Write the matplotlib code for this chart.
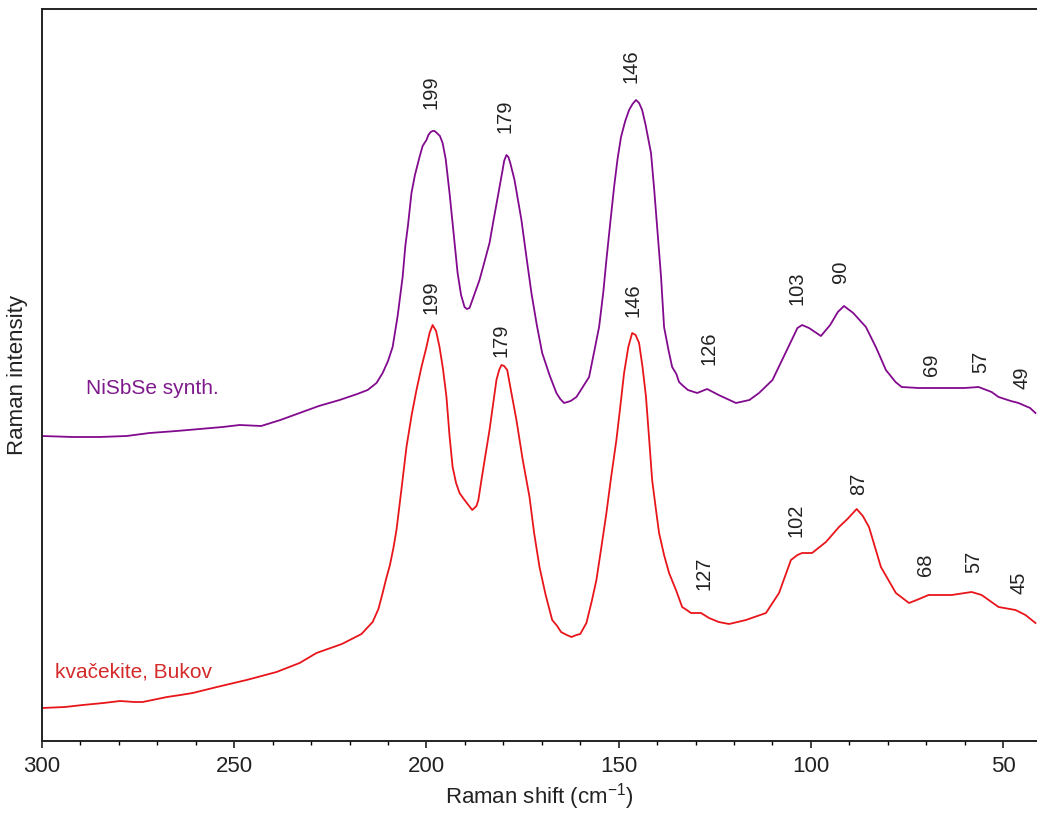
import matplotlib.pyplot as plt
from matplotlib.ticker import MultipleLocator

plt.rcParams['font.family'] = ['Liberation Sans', 'DejaVu Sans']
plt.rcParams['mathtext.fontset'] = 'custom'
plt.rcParams['mathtext.rm'] = 'Liberation Sans'
plt.rcParams['mathtext.default'] = 'rm'

# NiSbSe synthetic: (Raman shift cm-1, intensity a.u.)
nisbse = [
    (300, 305), (292, 304), (285, 304), (278, 305), (272, 308), (265, 310), (259, 312),
    (253, 314), (248.6, 316), (243, 315), (238, 321), (233, 328), (228, 335), (222.6, 341),
    (218, 347), (215.3, 351), (213, 358), (211.4, 368), (210, 380), (208.8, 394),
    (207.5, 425), (206.2, 464), (205.5, 495), (204.8, 516), (203.9, 548), (203, 566),
    (201.8, 584), (201, 595), (200, 601), (199.5, 606), (198.9, 609), (198.4, 610),
    (197.9, 610), (197.3, 608), (196.5, 605), (195.8, 598), (195, 582), (194.0, 548),
    (193, 510), (191.9, 468), (191, 446), (190.1, 434), (189.5, 432), (188.8, 433),
    (187.5, 447), (186.2, 461), (185, 478), (183.6, 498), (182.5, 522), (181.6, 541),
    (180.2, 571), (179.8, 580), (179.2, 586), (178.7, 584), (178.2, 578), (177.1, 561),
    (175.3, 521), (174, 484), (172.7, 448), (171.3, 416), (169.9, 388), (168, 366),
    (166.2, 348), (165.2, 342), (164.2, 338), (162.5, 340), (161.0, 344), (159.5, 353),
    (157.7, 364), (156.5, 387), (155.1, 414), (154, 449), (153.2, 481), (152.2, 518),
    (151.2, 554), (150.3, 582), (149.4, 604), (148.3, 620), (147.3, 631), (146.4, 637),
    (145.5, 641), (144.7, 638), (143.9, 631), (143, 616), (141.6, 588), (140.8, 553),
    (140.0, 514), (139, 465), (138.2, 414), (137, 390), (136.1, 374), (135, 367),
    (134.3, 359), (133.5, 356), (132, 351), (129.6, 348), (127.0, 352), (124, 346),
    (119.5, 338), (116, 341), (113.5, 348), (110, 361), (107.5, 381), (105, 401),
    (103.5, 413), (102.3, 416), (100.5, 413), (97.4, 405), (95, 416), (93, 429),
    (91.4, 435), (89, 428), (85.7, 414), (83, 393), (80.5, 371), (78, 359), (76.4, 354),
    (72, 353), (66.8, 353), (60, 353), (56.4, 354), (53, 349), (51.2, 344), (48, 340),
    (46.0, 338), (43, 333), (41.6, 328),
]

# kvacekite, Bukov: (Raman shift cm-1, intensity a.u.)
kvacekite = [
    (300, 33), (294, 34), (289.4, 36), (284, 38), (279.7, 40), (276, 39), (273.8, 39),
    (270, 42), (267.5, 44), (264, 46), (260.8, 48), (254.5, 54), (246.8, 61), (239.0, 69),
    (233, 78), (228.6, 88), (222, 97), (216.9, 107), (214, 119), (212.5, 132),
    (211.4, 148), (210.5, 162), (209.5, 176), (208.6, 193), (207.8, 211), (206.5, 252),
    (205.2, 294), (203.9, 325), (202.6, 351), (201.3, 374), (200.0, 394), (199.2, 408),
    (198.4, 416), (197.5, 410), (196.6, 394), (195.7, 372), (194.8, 344), (194, 305),
    (193.2, 274), (192.3, 258), (191.4, 248), (190.3, 242), (189.5, 238), (188.1, 231),
    (187, 235), (186.5, 241), (185.7, 261), (184.7, 285), (183.6, 311), (182.7, 336),
    (181.8, 361), (181.1, 371), (180.5, 376), (179.8, 375), (179.0, 371), (178, 350),
    (176.6, 321), (175, 282), (173.2, 244), (172, 208), (170.6, 174), (169, 146),
    (167.3, 121), (166, 115), (165, 109), (163.5, 106), (162.3, 104), (161, 106),
    (160, 107), (158.4, 118), (157, 140), (155.8, 161), (154.5, 194), (153.2, 228),
    (152, 263), (150.6, 301), (149.6, 334), (148.6, 368), (147.5, 394), (146.5, 408),
    (145.6, 406), (144.7, 398), (143.8, 374), (142.9, 344), (142.1, 303), (141.3, 261),
    (140.4, 234), (139.5, 208), (138.2, 186), (136.9, 168), (135, 150), (133.5, 134),
    (132.3, 131), (131.2, 128), (128.6, 128), (126.5, 123), (124, 119), (121.3, 117),
    (116.9, 121), (111.7, 128), (108.3, 148), (105.2, 181), (103.5, 186), (102.3, 188),
    (99.7, 188), (96.1, 199), (92.7, 214), (90.5, 222), (88.1, 232), (86.5, 225),
    (84.9, 214), (81.8, 174), (77.9, 148), (74.5, 138), (72.5, 141), (69.4, 146),
    (63.4, 146), (58.2, 149), (55.6, 146), (51.2, 134), (46.8, 131), (44.2, 126),
    (41.6, 118),
]

# peak labels
nisbse_peaks = ['199', '179', '146', '126', '103', '90', '69', '57', '49']
nisbse_peak_x = [198.7, 179.5, 146.8, 126.5, 103.6, 92.2, 68.6, 55.8, 45.2]
nisbse_peak_y = [649, 625, 675, 393, 453, 469, 376, 379, 363]
kvac_peaks = ['199', '179', '146', '127', '102', '87', '68', '57', '45']
kvac_peak_x = [198.7, 180.5, 146.2, 127.8, 103.9, 87.5, 70.1, 57.7, 46.0]
kvac_peak_y = [444, 401, 441, 168, 221, 257, 176, 179, 158]

purple = '#820a8e'
red = '#e8151b'

fig = plt.figure(figsize=(10.37, 8.14), dpi=100)
ax = fig.add_axes([42 / 1037, 73 / 814, 995 / 1037, 732 / 814])

x1, y1 = zip(*nisbse)
x2, y2 = zip(*kvacekite)
ax.plot(x1, y1, color=purple, linewidth=1.3)
ax.plot(x2, y2, color=red, linewidth=1.3)

for lab, x, y in zip(nisbse_peaks, nisbse_peak_x, nisbse_peak_y):
    ax.text(x, y, lab, rotation=90, ha='center', va='center', fontsize=14.5, color='#222222')
for lab, x, y in zip(kvac_peaks, kvac_peak_x, kvac_peak_y):
    ax.text(x, y, lab, rotation=90, ha='center', va='center', fontsize=14.5, color='#222222')

ax.text(288.6, 352, 'NiSbSe synth.', color='#7e1a8c', fontsize=15, ha='left', va='center')
ax.text(296.6, 69, 'kvačekite, Bukov', color='#d42a2a', fontsize=15, ha='left', va='center')

ax.set_xlim(300, 41.2)
ax.set_ylim(0, 732)
ax.xaxis.set_major_locator(MultipleLocator(50))
ax.xaxis.set_minor_locator(MultipleLocator(10))
ax.tick_params(axis='x', which='major', direction='out', length=5, width=1.2,
               labelsize=16, pad=6, colors='#222222')
ax.tick_params(axis='x', which='minor', direction='out', length=3, width=1)
ax.set_yticks([])
ax.spines['right'].set_visible(False)
for s in ['left', 'bottom', 'top']:
    ax.spines[s].set_linewidth(1.4)
    ax.spines[s].set_color('#222222')

ax.set_xlabel('Raman shift (cm$^{-1}$)', fontsize=16, labelpad=3, color='#222222')
ax.set_ylabel('Raman intensity', fontsize=16, labelpad=10, color='#222222')

plt.savefig('out.png', dpi=100)
